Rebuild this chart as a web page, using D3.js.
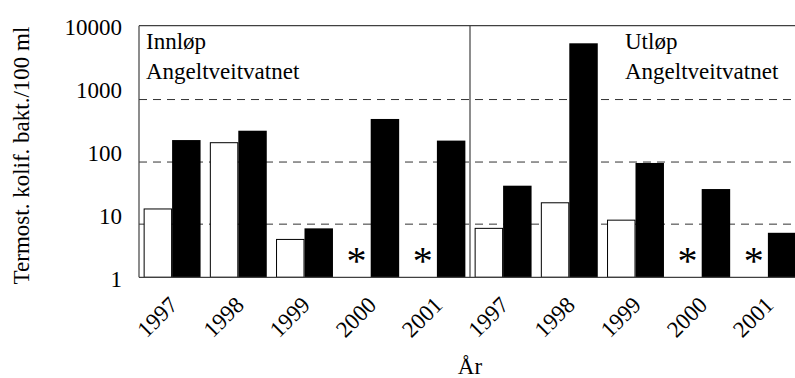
<!DOCTYPE html>
<html>
<head>
<meta charset="utf-8">
<script src="https://cdn.jsdelivr.net/npm/d3@7"></script>
<style>
  html, body { margin: 0; padding: 0; background: #fff; }
  svg { display: block; font-family: "Liberation Serif", "Times New Roman", serif; }
</style>
</head>
<body>
<svg id="chart" width="795" height="378"></svg>
<script>
// Årstall for hver målestasjon
const years = ["1997", "1998", "1999", "2000", "2001"];
const stations = ["Innløp", "Utløp"];
const lakeName = "Angeltveitvatnet";

// Termotolerante koliforme bakterier per 100 ml (null = ikke målt, vises med *)
const inletWhite  = [12.2, 138, 4.0, null, null];
const inletBlack  = [152, 214, 6.0, 329, 149];
const outletWhite = [6.0, 15.3, 8.1, null, null];
const outletBlack = [28.6, 5250, 65.7, 25.3, 5.1];

// Y-akse og stiplede hjelpelinjer
const yTicks = [1, 10, 100, 1000, 10000];
const refLines = [670, 68, 7];

const yTitle = "Termost. kolif. bakt./100 ml";
const xTitle = "År";

// Samle til rader: én per stasjon og år
const rows = [];
years.forEach((y, i) => rows.push({ key: "inn-" + y, year: y, white: inletWhite[i], black: inletBlack[i] }));
years.forEach((y, i) => rows.push({ key: "ut-" + y, year: y, white: outletWhite[i], black: outletBlack[i] }));

const svg = d3.select("#chart");
const plotL = 139, plotR = 801, plotT = 25.7, plotB = 277.3;
const lineColor = "#404040";
const fs = 23;

const x = d3.scaleBand()
  .domain(rows.map(d => d.key))
  .range([plotL, plotR])
  .paddingInner(0.14)
  .paddingOuter(0.07);

const sub = d3.scaleBand()
  .domain(["white", "black"])
  .range([0, x.bandwidth()]);

const y = d3.scaleLog().domain([1, 10000]).range([plotB, plotT]);

// Stiplede hjelpelinjer bak søylene
svg.append("g").selectAll("line")
  .data(refLines)
  .join("line")
  .attr("x1", plotL).attr("x2", plotR)
  .attr("y1", d => y(d)).attr("y2", d => y(d))
  .attr("stroke", "#333").attr("stroke-width", 1)
  .attr("stroke-dasharray", "8,6");

// Søyler
const groups = svg.append("g").selectAll("g")
  .data(rows)
  .join("g")
  .attr("transform", d => `translate(${x(d.key)},0)`);

groups.filter(d => d.white != null).append("rect")
  .attr("x", sub("white") + 0.5)
  .attr("width", sub.bandwidth() - 1)
  .attr("y", d => y(d.white))
  .attr("height", d => plotB - y(d.white))
  .attr("fill", "#fff")
  .attr("stroke", "#000")
  .attr("stroke-width", 1);

groups.filter(d => d.black != null).append("rect")
  .attr("x", sub("black"))
  .attr("width", sub.bandwidth())
  .attr("y", d => y(d.black))
  .attr("height", d => plotB - y(d.black))
  .attr("fill", "#000");

// Stjerne der verdien mangler
groups.filter(d => d.white == null).append("text")
  .attr("x", sub("white") + sub.bandwidth() / 2)
  .attr("y", 274)
  .attr("text-anchor", "middle")
  .attr("font-size", 40)
  .attr("fill", "#000")
  .text("*");

// Ramme og skillelinje mellom stasjonene
svg.append("line").attr("x1", plotL).attr("x2", plotR).attr("y1", plotT).attr("y2", plotT)
  .attr("stroke", lineColor).attr("stroke-width", 1.2);
svg.append("line").attr("x1", plotL).attr("x2", plotL).attr("y1", plotT).attr("y2", plotB)
  .attr("stroke", lineColor).attr("stroke-width", 1.2);
svg.append("line").attr("x1", plotL).attr("x2", plotR).attr("y1", plotB).attr("y2", plotB)
  .attr("stroke", lineColor).attr("stroke-width", 1.2);
const sep = x(rows[5].key) - x.step() * x.paddingInner() / 2;
svg.append("line").attr("x1", sep).attr("x2", sep).attr("y1", plotT).attr("y2", plotB)
  .attr("stroke", lineColor).attr("stroke-width", 1.2);

// Y-akse
const yAxis = d3.axisLeft(y)
  .tickValues(yTicks)
  .tickFormat(d3.format("d"))
  .tickSize(0)
  .tickPadding(17);
svg.append("g")
  .attr("transform", `translate(${plotL},0)`)
  .call(yAxis)
  .call(g => g.select(".domain").remove())
  .call(g => g.selectAll("text")
    .attr("font-family", "Liberation Serif, Times New Roman, serif")
    .attr("font-size", fs)
    .attr("fill", "#000")
    .attr("dy", "0.38em"));

// X-akse med skrå årstall
const xAxis = d3.axisBottom(x)
  .tickFormat(k => rows.find(r => r.key === k).year)
  .tickSize(0);
svg.append("g")
  .attr("transform", `translate(0,${plotB})`)
  .call(xAxis)
  .call(g => g.select(".domain").remove())
  .call(g => g.selectAll("text")
    .attr("font-family", "Liberation Serif, Times New Roman, serif")
    .attr("font-size", fs)
    .attr("fill", "#000")
    .attr("text-anchor", "end")
    .attr("dy", "0")
    .attr("y", 0)
    .attr("transform", "translate(7,29) rotate(-45)"));

// Aksetitler
svg.append("text")
  .attr("transform", `translate(29,${(plotT + plotB) / 2 + 4}) rotate(-90)`)
  .attr("text-anchor", "middle")
  .attr("font-size", fs)
  .attr("fill", "#000")
  .text(yTitle);

svg.append("text")
  .attr("x", (plotL + plotR) / 2)
  .attr("y", 374)
  .attr("text-anchor", "middle")
  .attr("font-size", fs)
  .attr("fill", "#000")
  .text(xTitle);

// Stasjonsnavn i hvert panel
const labels = [
  { x: plotL + 7, lines: [stations[0], lakeName] },
  { x: sep + 155, lines: [stations[1], lakeName] }
];
labels.forEach(l => {
  const t = svg.append("text").attr("font-size", fs).attr("fill", "#000");
  l.lines.forEach((s, i) => {
    t.append("tspan").attr("x", l.x).attr("y", i === 0 ? 49 : 79).text(s);
  });
});
</script>
</body>
</html>
